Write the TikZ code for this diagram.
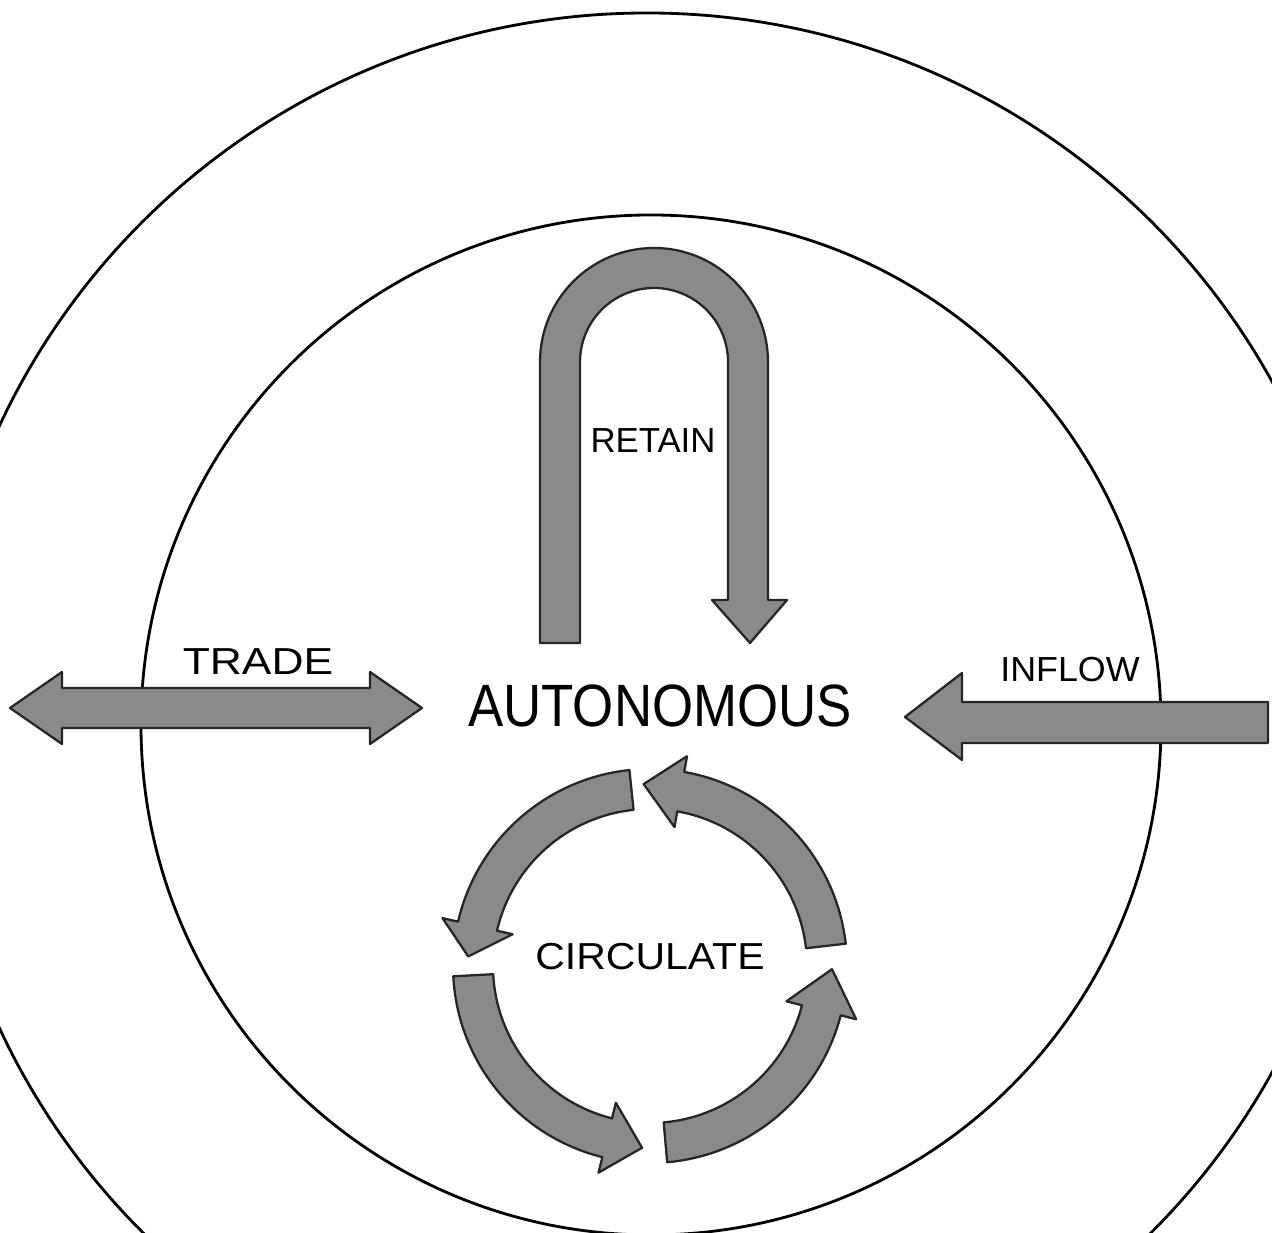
\documentclass[tikz,border=0pt]{standalone}
\usepackage{fontspec}
\setmainfont{Liberation Sans}

\begin{document}
\begin{tikzpicture}[
      x=0.02cm, y=0.02cm,
      % Define styles for the elements
      ring/.style={
          draw,
          line width=1.6pt
        },
      flow/.style={
          fill=black!46,
          draw=black!85,
          line width=1.3pt,
          line join=round
        },
      word/.style={
          inner sep=0pt,
          text=black,
          font=\fontsize{#1}{#1}\selectfont
        }
    ]
    \useasboundingbox (0,0) rectangle (1272,1233);
    \clip (0,0) rectangle (1272,1233);

    % The two rings
    \draw[ring] (647,506) circle[radius=714];
    \draw[ring] (651,508) circle[radius=510];

    % Place the labels
    \node[word=19.8pt] (retain) at (653,792) {RETAIN};
    \node[word=21.4pt, xscale=1.18] (trade) at (258,571) {TRADE};
    \node[word=19.8pt, xscale=1.03] (inflow) at (1070,563) {INFLOW};
    \node[word=34pt, xscale=0.885] (auto) at (660,527) {AUTONOMOUS};
    \node[word=21.4pt, xscale=1.09] (circ) at (650,276) {CIRCULATE};

    % The U-turn arrow
    \filldraw[flow] (540,590) -- (540,871)
      arc[start angle=180, end angle=0, radius=114] -- (768,633)
      -- (787,633) -- (750,590) -- (712,633) -- (728,633) -- (728,871)
      arc[start angle=0, end angle=180, radius=74] -- (580,590) -- cycle;

    % The two-way arrow on the left
    \filldraw[flow] (10,525) -- (62,561) -- (62,545) -- (370,545) -- (370,561)
      -- (422,525) -- (370,489) -- (370,505) -- (62,505) -- (62,489) -- cycle;

    % The arrow coming in from the right
    \filldraw[flow] (905,516) -- (962,560) -- (962,531) -- (1268,531)
      -- (1268,490) -- (962,490) -- (962,473) -- cycle;

    % The ring of four arrows
    \begin{scope}[shift={(650,267)}]
      \foreach \tail/\base/\tip in {96/167/177, 6.5/80/92, -85/-14.5/-1, 183/256/267.5}
        \filldraw[flow] (\tail:197) arc[start angle=\tail, end angle=\base, radius=197]
          -- (\base:213) -- (\tip:182) -- (\base:141) -- (\base:157)
          arc[start angle=\base, end angle=\tail, radius=157] -- cycle;
    \end{scope}

  \end{tikzpicture}
\end{document}
